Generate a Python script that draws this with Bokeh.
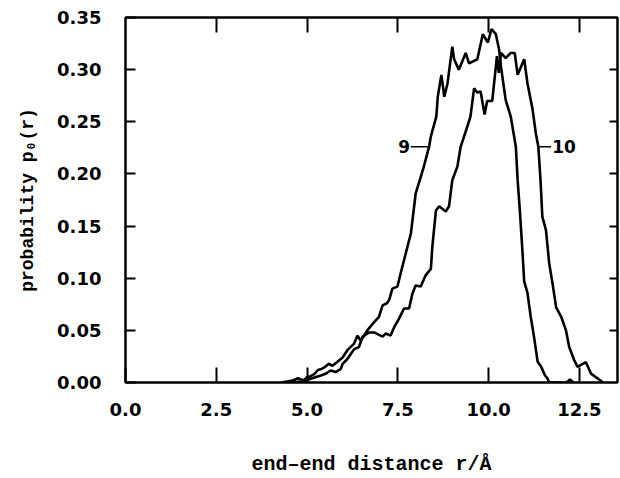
from bokeh.plotting import figure
from bokeh.models import Range1d, FixedTicker, LinearAxis, NumeralTickFormatter, ColumnDataSource
from bokeh.core.properties import value
from bokeh.embed import file_html
from bokeh.resources import INLINE

# ---- data ----
r9 = [4.3, 4.6, 4.75, 4.9, 5.0, 5.1, 5.2, 5.3, 5.4, 5.5, 5.6, 5.7, 5.84, 5.98, 6.11, 6.29, 6.39,
      6.48, 6.66, 6.8, 6.98, 7.08, 7.2, 7.26, 7.35, 7.49, 7.58, 7.72, 7.86, 7.95, 7.99, 8.13, 8.2,
      8.36, 8.41, 8.56, 8.6, 8.7, 8.78, 8.87, 9.0, 9.05, 9.18, 9.37, 9.46, 9.69, 9.84, 9.98, 10.08,
      10.2, 10.29, 10.34, 10.47, 10.61, 10.75, 10.8, 10.86, 10.93, 10.98, 11.07, 11.16, 11.25,
      11.35, 11.45, 11.55, 11.62, 11.67, 12.15, 12.24, 12.33]
p9 = [0.0, 0.002, 0.004, 0.002, 0.005, 0.006, 0.008, 0.012, 0.013, 0.015, 0.018, 0.016, 0.020,
      0.024, 0.031, 0.037, 0.045, 0.040, 0.050, 0.056, 0.063, 0.074, 0.076, 0.079, 0.090, 0.092,
      0.105, 0.124, 0.143, 0.169, 0.181, 0.197, 0.205, 0.226, 0.236, 0.255, 0.274, 0.295, 0.274,
      0.287, 0.322, 0.310, 0.300, 0.316, 0.306, 0.310, 0.334, 0.326, 0.339, 0.334, 0.319, 0.303,
      0.271, 0.255, 0.226, 0.194, 0.165, 0.127, 0.097, 0.086, 0.063, 0.044, 0.020, 0.015, 0.007,
      0.004, 0.0, 0.0, 0.003, 0.0]

r10 = [4.4, 4.9, 5.1, 5.38, 5.51, 5.65, 5.79, 5.93, 5.98, 6.1, 6.2, 6.3, 6.43, 6.53, 6.71, 6.85,
       7.08, 7.17, 7.3, 7.4, 7.53, 7.67, 7.81, 7.9, 7.99, 8.13, 8.27, 8.41, 8.45, 8.55, 8.64, 8.82,
       8.91, 9.0, 9.14, 9.23, 9.41, 9.5, 9.6, 9.69, 9.78, 9.89, 9.96, 10.1, 10.23, 10.28, 10.34,
       10.47, 10.61, 10.72, 10.8, 10.98, 11.07, 11.21, 11.3, 11.37, 11.43, 11.48, 11.58, 11.67,
       11.76, 11.86, 12.0, 12.13, 12.22, 12.35, 12.45, 12.68, 12.82, 13.0, 13.15]
p10 = [0.0, 0.001, 0.0035, 0.0067, 0.0083, 0.0115, 0.010, 0.013, 0.018, 0.022, 0.027, 0.032,
       0.034, 0.044, 0.048, 0.048, 0.044, 0.047, 0.045, 0.053, 0.061, 0.071, 0.071, 0.085, 0.093,
       0.092, 0.103, 0.109, 0.130, 0.165, 0.169, 0.164, 0.169, 0.194, 0.207, 0.226, 0.245, 0.255,
       0.282, 0.278, 0.279, 0.257, 0.270, 0.270, 0.313, 0.297, 0.316, 0.311, 0.316, 0.316, 0.295,
       0.310, 0.287, 0.262, 0.239, 0.226, 0.194, 0.159, 0.146, 0.114, 0.095, 0.072, 0.063, 0.050,
       0.034, 0.022, 0.015, 0.0195, 0.0085, 0.004, 0.0]

x_ticks = [0.0, 2.5, 5.0, 7.5, 10.0, 12.5]
y_ticks = [0.00, 0.05, 0.10, 0.15, 0.20, 0.25, 0.30, 0.35]

label_text = ["9", "10"]
label_x = [7.84, 11.75]
label_y = [0.226, 0.226]
leader_x0 = [7.86, 11.37]
leader_x1 = [8.36, 11.72]
leader_y = [0.226, 0.226]

x_label = "end\u2013end distance r/\u00c5"
y_label = "probability p\u2080(r)"

# ---- figure ----
p = figure(width=620, height=478, output_backend="svg", toolbar_location=None,
           x_range=Range1d(0, 13.55), y_range=Range1d(0, 0.35),
           min_border_left=125, min_border_right=3, min_border_top=17, min_border_bottom=96,
           x_axis_label=x_label, y_axis_label=y_label)
p.grid.visible = False
p.outline_line_color = "black"
p.outline_line_width = 2
p.background_fill_color = "white"
p.border_fill_color = "white"

tick_font = "DejaVu Sans"
label_font = "Liberation Mono"

xa = p.xaxis[0]
xa.ticker = FixedTicker(ticks=x_ticks)
xa.formatter = NumeralTickFormatter(format="0.0")
xa.major_tick_in = 15
xa.major_tick_out = 0
xa.minor_tick_line_color = None
xa.axis_line_width = 2
xa.axis_line_color = "black"
xa.major_tick_line_width = 2
xa.major_tick_line_color = "black"
xa.major_label_text_font = tick_font
xa.major_label_text_font_style = "bold"
xa.major_label_text_font_size = "18px"
xa.major_label_text_color = "black"
xa.major_label_standoff = 20
xa.axis_label_text_font = label_font
xa.axis_label_text_font_style = "bold"
xa.axis_label_text_font_size = "20px"
xa.axis_label_text_color = "black"
xa.axis_label_standoff = 34

ya = p.yaxis[0]
ya.ticker = FixedTicker(ticks=y_ticks)
ya.formatter = NumeralTickFormatter(format="0.00")
ya.major_tick_in = 10
ya.major_tick_out = 0
ya.minor_tick_line_color = None
ya.axis_line_width = 2
ya.axis_line_color = "black"
ya.major_tick_line_width = 2
ya.major_tick_line_color = "black"
ya.major_label_text_font = tick_font
ya.major_label_text_font_style = "bold"
ya.major_label_text_font_size = "18px"
ya.major_label_text_color = "black"
ya.major_label_standoff = 24
ya.axis_label_text_font = label_font
ya.axis_label_text_font_style = "bold"
ya.axis_label_text_font_size = "18px"
ya.axis_label_text_color = "black"
ya.axis_label_standoff = 16

top = LinearAxis(ticker=FixedTicker(ticks=x_ticks[1:]),
                 major_label_overrides={t: "" for t in x_ticks[1:]},
                 major_tick_in=15, major_tick_out=0, minor_tick_line_color=None,
                 axis_line_width=2, major_tick_line_width=2, major_label_standoff=0)
p.add_layout(top, "above")
right = LinearAxis(ticker=FixedTicker(ticks=y_ticks[1:-1]),
                   major_label_overrides={t: "" for t in y_ticks[1:-1]},
                   major_tick_in=8, major_tick_out=0, minor_tick_line_color=None,
                   axis_line_width=2, major_tick_line_width=2, major_label_standoff=0)
p.add_layout(right, "right")

p.line(r9, p9, line_color="black", line_width=2.6)
p.line(r10, p10, line_color="black", line_width=2.6)

src_lead = ColumnDataSource(dict(x0=leader_x0, x1=leader_x1, y=leader_y))
p.segment(x0="x0", y0="y", x1="x1", y1="y", source=src_lead, line_color="black", line_width=1.5)

src_lab = ColumnDataSource(dict(x=label_x, y=label_y, t=label_text,
                                align=["right", "left"]))
p.text(x="x", y="y", text="t", source=src_lab, text_align="align", text_baseline="middle",
       text_font=value(tick_font), text_font_style="bold", text_font_size="17px",
       text_color="black")

open("out.html", "w").write(file_html(p, INLINE))
